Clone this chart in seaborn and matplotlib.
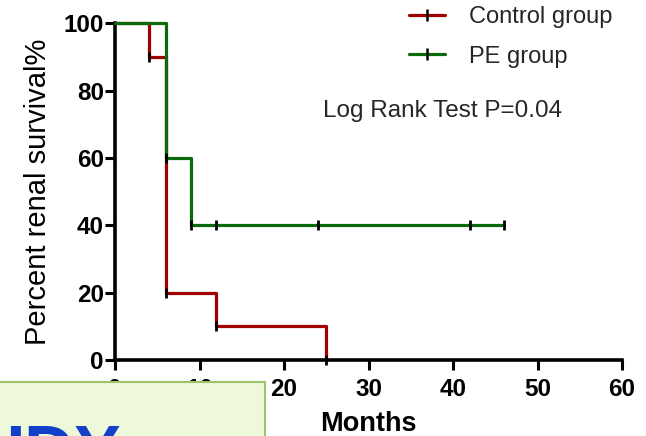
import numpy as np
import pandas as pd
import seaborn as sns
import matplotlib
matplotlib.use("Agg")
import matplotlib.pyplot as plt
from matplotlib.lines import Line2D
from matplotlib.patches import Rectangle

# Kaplan-Meier step data (months, percent survival)
control_t = [0, 4, 6, 12, 25]
control_s = [100, 90, 20, 10, 0]
pe_t = [0, 6, 9, 46]
pe_s = [100, 60, 40, 40]

# tick marks on curves
control_mark_t = [4, 6, 12, 25]
control_mark_s = [90, 20, 10, 0]
pe_mark_t = [6, 9, 12, 24, 42, 46]
pe_mark_s = [60, 40, 40, 40, 40, 40]

groups = ["Control group", "PE group"]
x_ticks = [0, 10, 20, 30, 40, 50, 60]
y_ticks = [0, 20, 40, 60, 80, 100]
RED = "#A00000"
GREEN = "#0B6A0B"

sns.set_theme(style="ticks")
plt.rcParams['font.family'] = ['Liberation Sans', 'DejaVu Sans']

df = pd.concat([
    pd.DataFrame({"Months": control_t, "Survival": control_s, "Group": groups[0]}),
    pd.DataFrame({"Months": pe_t, "Survival": pe_s, "Group": groups[1]}),
], ignore_index=True)
marks = pd.concat([
    pd.DataFrame({"Months": control_mark_t, "Survival": control_mark_s}),
    pd.DataFrame({"Months": pe_mark_t, "Survival": pe_mark_s}),
], ignore_index=True)

fig = plt.figure(figsize=(6.46, 4.36), dpi=100)
ax = fig.add_axes([0.178, 0.174, 0.785, 0.773])

sns.lineplot(data=df, x="Months", y="Survival", hue="Group",
             palette={groups[0]: RED, groups[1]: GREEN},
             drawstyle="steps-post", estimator=None, sort=False,
             linewidth=2.3, legend=False, ax=ax, zorder=3, clip_on=False)
sns.scatterplot(data=marks, x="Months", y="Survival", marker="|", s=50,
                color="black", linewidth=2.0, ax=ax, zorder=4, clip_on=False,
                legend=False)

ax.set_xlim(0, 60)
ax.set_ylim(0, 100)
ax.set_xticks(x_ticks)
ax.set_yticks(y_ticks)
ax.tick_params(axis="both", width=2.2, length=7, labelsize=17.5, colors="black")
ax.tick_params(axis="x", pad=6)
ax.tick_params(axis="y", pad=1)
for lab in ax.get_xticklabels() + ax.get_yticklabels():
    lab.set_fontweight("bold")
for sp in ["left", "bottom"]:
    ax.spines[sp].set_linewidth(2.6)
    ax.spines[sp].set_color("black")
sns.despine(ax=ax)
ax.set_xlabel("Months", fontsize=19.5, fontweight="bold", labelpad=7,
              color="black")
ax.set_ylabel("Percent renal survival%", fontsize=21, labelpad=8,
              color="black")

handles = [Line2D([0], [0], color=RED, lw=2.3, marker="|", markersize=8,
                  markeredgecolor="black", markeredgewidth=1.8),
           Line2D([0], [0], color=GREEN, lw=2.3, marker="|", markersize=8,
                  markeredgecolor="black", markeredgewidth=1.8)]
fig.legend(handles, groups, loc="upper left", bbox_to_anchor=(0.601, 1.035),
           frameon=False, fontsize=17, handlelength=1.5, labelspacing=0.75,
           handletextpad=1.0)
ax.text(0.41, 0.74, "Log Rank Test P=0.04", transform=ax.transAxes,
        fontsize=17.5, va="center", ha="left")

# overlay box at bottom-left
fig.patches.append(Rectangle((-5 / 646, -10 / 436), 270 / 646, 64 / 436,
                             transform=fig.transFigure, facecolor="#EEF9DC",
                             edgecolor="#9DC46C", linewidth=1.5, zorder=10))
fig.text(-25 / 646, 1 - 472 / 436, "UDY", color="#1240C8", fontsize=50,
         fontweight="bold", ha="left", va="baseline", zorder=11)

fig.savefig("out.png", dpi=100)
